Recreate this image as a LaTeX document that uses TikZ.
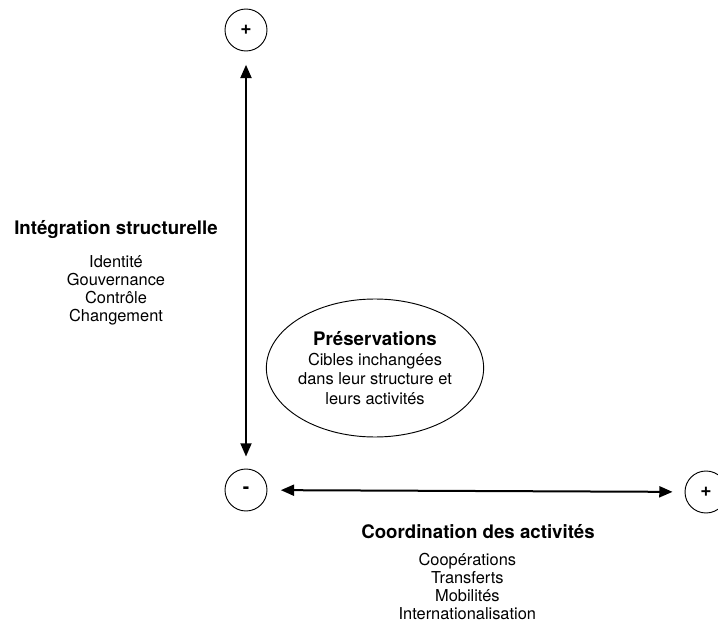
\documentclass[tikz,border=0pt]{standalone}
\usepackage{fontspec}
\setmainfont{TeX Gyre Heros}
\usepackage{tikz}
\usetikzlibrary{calc,shapes,positioning}
\usetikzlibrary{arrows.meta}
\tikzset{>={Triangle[width=2.9mm,length=3.5mm]}}

\begin{document}
\begin{tikzpicture}[x=0.75pt,y=-0.75pt]
  \useasboundingbox (0,0) rectangle (718,624);
  \tikzstyle{snode} = [draw=black, line width=0.7pt, circle, minimum size=31.5pt, inner sep=0pt, font=\bfseries\fontsize{14.5}{16}\selectfont]
  \tikzstyle{tnode} = [align=center, inner sep=0pt, font=\bfseries\fontsize{14}{16}\selectfont]
  \tikzstyle{lnode} = [align=center, inner sep=0pt, font=\fontsize{12.3}{13.5}\selectfont]
  \tikzstyle{enode} = [draw=black, line width=0.7pt, ellipse, minimum width=160.5pt, minimum height=103.5pt, inner sep=0pt, align=center, font=\fontsize{12.3}{14.8}\selectfont]

  % axis ends
  \node[snode] (pT) at (246,30) {+};
  \node[snode] (mO) at (246,490) {-};
  \node[snode] (pR) at (706,492) {+};

  % vertical axis labels
  \node[tnode] (integ) at (116,230) {Intégration structurelle};
  \node[lnode, below=12pt of integ] (integL) {Identité\\Gouvernance\\Contrôle\\Changement};

  % horizontal axis labels
  \node[tnode] (coord) at (478,532) {Coordination des activités};
  \node[lnode, below=10pt of coord, xshift=-8pt] (coordL) {Coopérations\\Transferts\\Mobilités\\Internationalisation};

  % middle
  \node[enode] (pres) at (375,368) {{\bfseries\fontsize{14}{16}\selectfont Préservations}\\Cibles inchangées\\dans leur structure et\\leurs activités};

  \path[<->, draw, line width=1.5pt, shorten <=10pt, shorten >=9pt]
  (pT) edge node {} (mO)
  (mO) edge node {} (pR)
  ;
\end{tikzpicture}
\end{document}
